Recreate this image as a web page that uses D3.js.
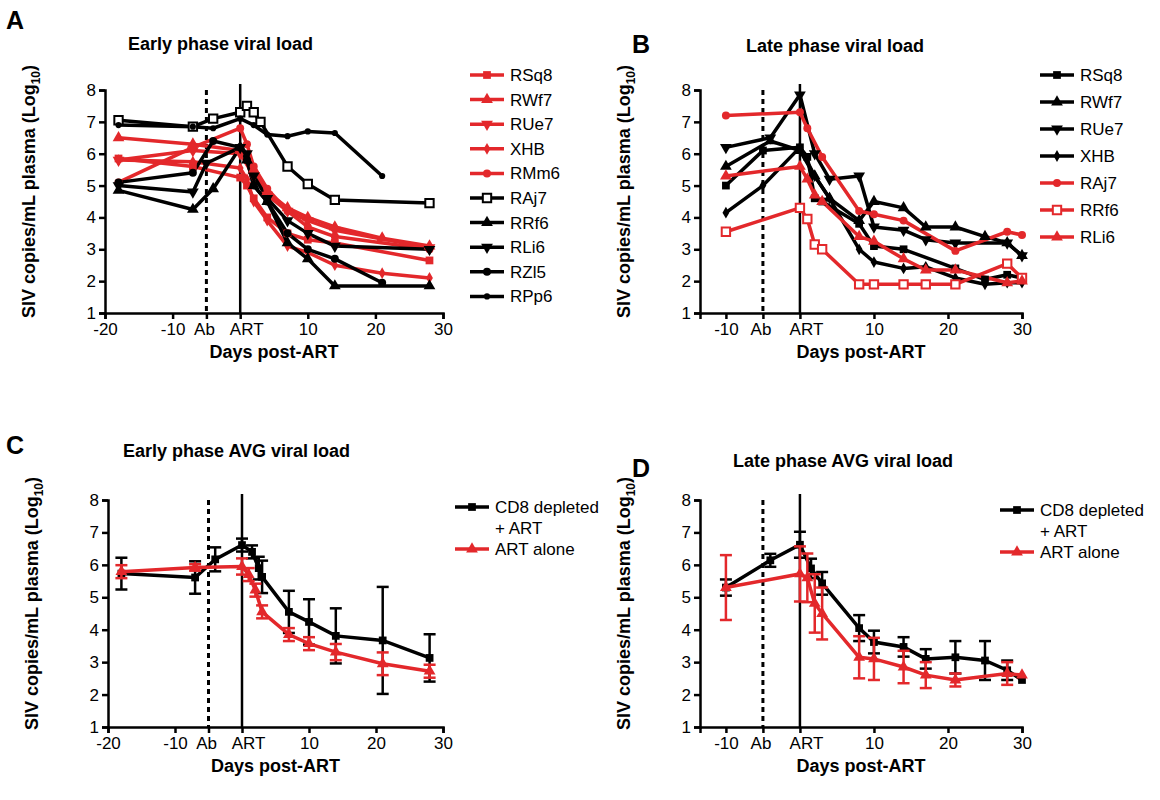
<!DOCTYPE html>
<html><head><meta charset="utf-8">
<script src="https://cdn.jsdelivr.net/npm/d3@7"></script>
<style>body{margin:0;background:#fff}text{font-family:Arial,"Liberation Sans",sans-serif}</style>
</head><body>
<svg id="c" width="1160" height="800"></svg>
<script>
const RED="#e3282b", BLK="#000";
const earlyNames=["RSq8","RWf7","RUe7","XHB","RMm6","RAj7","RRf6","RLi6","RZl5","RPp6"];
const earlyColors=[RED,RED,RED,RED,RED,BLK,BLK,BLK,BLK,BLK];
const earlySymbols=["square","triangle","down","diamond","circle","opensquare","triangle","down","circle","smallcircle"];
const earlyData=[
 [[-18,5.85],[-7,5.6],[0,5.25],[1,5.0],[2,4.6],[4,4.0],[7,3.5],[10,3.3],[14,3.2],[28,2.65]],
 [[-18,6.5],[-7,6.3],[0,6.1],[2,5.5],[4,4.8],[7,4.3],[10,4.0],[14,3.7],[21,3.35],[28,3.1]],
 [[-18,5.8],[-7,6.1],[0,6.0],[2,5.3],[4,4.7],[7,4.2],[10,3.9],[14,3.6],[28,3.05]],
 [[-18,5.8],[-7,5.75],[0,5.55],[1,5.2],[2,4.5],[4,3.9],[7,3.1],[10,2.9],[14,2.5],[21,2.25],[28,2.1]],
 [[-18,5.1],[-7,6.2],[0,6.8],[1,6.3],[2,5.6],[4,4.9],[7,4.2],[10,3.7],[14,3.4],[28,3.0]],
 [[-18,7.05],[-7,6.85],[-4,7.1],[0,7.3],[1,7.5],[2,7.3],[3,7.0],[7,5.6],[10,5.05],[14,4.55],[28,4.45]],
 [[-18,4.85],[-7,4.25],[-4,4.9],[0,6.2],[1,5.8],[2,5.0],[4,4.5],[7,3.2],[10,2.7],[14,1.85],[28,1.85]],
 [[-18,5.0],[-7,4.8],[-5,5.7],[0,6.2],[1,6.0],[2,5.3],[4,4.6],[7,3.9],[10,3.5],[14,3.1],[28,3.0]],
 [[-18,5.1],[-7,5.4],[-4,6.4],[0,6.2],[1,5.8],[2,5.0],[4,4.5],[7,3.5],[10,3.0],[14,2.7],[21,1.95]],
 [[-18,6.9],[-7,6.85],[-4,6.8],[0,7.1],[2,6.9],[4,6.6],[7,6.55],[10,6.7],[14,6.65],[21,5.3]]
];
const lateNames=["RSq8","RWf7","RUe7","XHB","RAj7","RRf6","RLi6"];
const lateColors=[BLK,BLK,BLK,BLK,RED,RED,RED];
const lateSymbols=["square","triangle","down","diamond","circle","opensquare","triangle"];
const lateData=[
 [[-10,5.0],[-5,6.1],[0,6.2],[1,5.9],[2,4.6],[3,4.5],[8,3.8],[10,3.1],[14,3.0],[21,2.4],[25,2.05],[28,2.2],[30,2.1]],
 [[-10,5.6],[-4,6.4],[0,6.1],[2,5.3],[4,4.6],[8,3.9],[10,4.5],[14,4.3],[17,3.7],[21,3.7],[25,3.4],[28,3.2],[30,2.8]],
 [[-10,6.2],[-4,6.5],[0,7.85],[2,6.0],[4,5.2],[8,5.3],[10,3.7],[14,3.6],[17,3.3],[21,3.2],[28,3.2],[30,2.8]],
 [[-10,4.15],[-5,5.0],[0,6.2],[2,5.3],[4,4.6],[8,3.0],[10,2.6],[14,2.4],[17,2.45],[21,2.1],[25,1.9],[28,1.95],[30,1.95]],
 [[-10,7.2],[0,7.3],[1,6.8],[3,5.9],[8,4.2],[10,4.1],[14,3.9],[21,2.95],[28,3.55],[30,3.45]],
 [[-10,3.55],[0,4.3],[1,3.95],[2,3.15],[3,3.0],[8,1.9],[10,1.9],[14,1.9],[17,1.9],[21,1.9],[28,2.55],[30,2.1]],
 [[-10,5.3],[0,5.6],[1,5.2],[2,4.7],[3,4.5],[8,3.4],[10,3.25],[14,2.7],[17,2.35],[21,2.35],[28,1.95],[30,2.0]]
];
const earlyAvgCD8=[[-18,5.73,0.49],[-7,5.61,0.5],[-4,6.17,0.37],[0,6.61,0.2],[1.5,6.4,0.2],[2.5,5.9,0.35],[3,5.63,0.5],[7,4.55,0.65],[10,4.24,0.7],[14,3.81,0.85],[21,3.67,1.65],[28,3.13,0.73]];
const earlyAvgART=[[-18,5.79,0.2],[-7,5.92,0.1],[0,5.95,0.25],[1,5.7,0.2],[2,5.22,0.2],[3,4.55,0.2],[7,3.85,0.2],[10,3.57,0.2],[14,3.31,0.25],[21,2.95,0.35],[28,2.72,0.2]];
const lateAvgCD8=[[-10,5.3,0.25],[-4,6.14,0.2],[0,6.62,0.4],[1.5,5.89,0.3],[3,5.43,0.35],[8,4.05,0.4],[10,3.62,0.35],[14,3.47,0.3],[17,3.1,0.3],[21,3.15,0.5],[25,3.05,0.6],[28,2.75,0.3],[30,2.45,0]];
const lateAvgART=[[-10,5.3,1.0],[0,5.72,0.85],[1,5.6,0.75],[2,4.81,0.9],[3,4.5,0.8],[8,3.15,0.65],[10,3.1,0.65],[14,2.85,0.5],[17,2.6,0.4],[21,2.45,0.2],[28,2.65,0.35],[30,2.6,0]];
const yTicks=[1,2,3,4,5,6,7,8];
const xTicksEarly=[-20,-10,0,10,20,30], xTicksLate=[-10,0,10,20,30];

const svg=d3.select("#c");
function sym(g,type,x,y,color){
  const s={square:d3.symbolSquare,opensquare:d3.symbolSquare,triangle:d3.symbolTriangle,down:d3.symbolTriangle,diamond:d3.symbolDiamond,circle:d3.symbolCircle,smallcircle:d3.symbolCircle}[type];
  const size={square:60,opensquare:70,triangle:60,down:60,diamond:40,circle:50,smallcircle:30}[type];
  const p=g.append("path").attr("d",d3.symbol(s,size)()).attr("transform",`translate(${x},${y})${type==="down"?" rotate(180)":""}`);
  if(type==="opensquare") p.attr("fill","#fff").attr("stroke",color).attr("stroke-width",2);
  else p.attr("fill",color);
}
function panel(o){
  const x=d3.scaleLinear().domain(o.xd).range(o.xr);
  const y=d3.scaleLinear().domain([1,8]).range(o.yr);
  const g=svg.append("g");
  const ya=g.append("g").attr("transform",`translate(${o.xr[0]},0)`).call(d3.axisLeft(y).tickValues(yTicks).tickFormat(d3.format("d")).tickSize(6));
  const xa=g.append("g").attr("transform",`translate(0,${o.yr[0]})`).call(d3.axisBottom(x).tickValues(o.xt.concat([-5])).tickSize(6).tickFormat(d=>d===0?"ART":d===-5?"Ab":d));
  [ya,xa].forEach(a=>{a.selectAll("path,line").attr("stroke","#000").attr("stroke-width",2.5);a.selectAll("text").attr("font-size",17).attr("fill","#000");});
  ya.selectAll("text").attr("x",-9);
  xa.selectAll("text").attr("y",10);
  xa.selectAll(".tick").filter(d=>d===-5).select("text").attr("text-anchor","end").attr("dx",8);
  xa.selectAll(".tick").filter(d=>d===0).select("text").attr("text-anchor","middle").attr("dx",6);
  g.append("line").attr("x1",x(-5)).attr("x2",x(-5)).attr("y1",y(8)).attr("y2",y(1)).attr("stroke","#000").attr("stroke-width",3).attr("stroke-dasharray","5,4");
  g.append("line").attr("x1",x(0)).attr("x2",x(0)).attr("y1",y(8)-6).attr("y2",y(1)).attr("stroke","#000").attr("stroke-width",2.5);
  svg.append("text").attr("x",o.lx).attr("y",o.ly).text(o.letter).attr("font-size",25).attr("font-weight","bold");
  svg.append("text").attr("x",o.tx).attr("y",o.ty).text(o.title).attr("font-size",18).attr("font-weight","bold");
  svg.append("text").attr("x",(o.xr[0]+o.xr[1])/2).attr("y",o.yr[0]+45).attr("text-anchor","middle").attr("font-size",18).attr("font-weight","bold").text("Days post-ART");
  const yt=svg.append("text").attr("transform",`translate(${o.xr[0]-70},${(o.yr[0]+o.yr[1])/2-10}) rotate(-90)`).attr("text-anchor","middle").attr("font-size",18).attr("font-weight","bold");
  yt.append("tspan").text("SIV copies/mL plasma (Log");
  yt.append("tspan").text("10").attr("font-size",12).attr("dy",5);
  yt.append("tspan").text(")").attr("dy",-5);
  const line=d3.line().x(d=>x(d[0])).y(d=>y(d[1]));
  if(o.series){
    o.series.forEach((s,i)=>{
      g.append("path").datum(s).attr("d",line).attr("fill","none").attr("stroke",o.colors[i]).attr("stroke-width",3.5).attr("stroke-linejoin","round");
    });
    o.series.forEach((s,i)=>s.forEach(d=>sym(g,o.symbols[i],x(d[0]),y(d[1]),o.colors[i])));
    o.names.forEach((n,i)=>{
      const yy=o.legY+i*o.legDy;
      g.append("line").attr("x1",o.legX).attr("x2",o.legX+34).attr("y1",yy).attr("y2",yy).attr("stroke",o.colors[i]).attr("stroke-width",3.5);
      sym(g,o.symbols[i],o.legX+17,yy,o.colors[i]);
      g.append("text").attr("x",o.legX+40).attr("y",yy+6).attr("font-size",17).text(n);
    });
  } else {
    [[o.cd8,BLK,"square"],[o.art,RED,"triangle"]].forEach(([s,c,t])=>{
      s.forEach(d=>{ if(d[2]>0){
        const xx=x(d[0]);
        g.append("line").attr("x1",xx).attr("x2",xx).attr("y1",y(d[1]-d[2])).attr("y2",y(d[1]+d[2])).attr("stroke",c).attr("stroke-width",2.5);
        [d[1]-d[2],d[1]+d[2]].forEach(v=>g.append("line").attr("x1",xx-6).attr("x2",xx+6).attr("y1",y(v)).attr("y2",y(v)).attr("stroke",c).attr("stroke-width",2.5));
      }});
      g.append("path").datum(s).attr("d",line).attr("fill","none").attr("stroke",c).attr("stroke-width",3.5);
      s.forEach(d=>sym(g,t,x(d[0]),y(d[1]),c));
    });
    const lx=o.legX, ly=o.legY;
    g.append("line").attr("x1",lx).attr("x2",lx+34).attr("y1",ly).attr("y2",ly).attr("stroke",BLK).attr("stroke-width",3.5);
    sym(g,"square",lx+17,ly,BLK);
    g.append("text").attr("x",lx+40).attr("y",ly+6).attr("font-size",17).text("CD8 depleted");
    g.append("text").attr("x",lx+40).attr("y",ly+27).attr("font-size",17).text("+ ART");
    g.append("line").attr("x1",lx).attr("x2",lx+34).attr("y1",ly+42).attr("y2",ly+42).attr("stroke",RED).attr("stroke-width",3.5);
    sym(g,"triangle",lx+17,ly+42,RED);
    g.append("text").attr("x",lx+40).attr("y",ly+48).attr("font-size",17).text("ART alone");
  }
}
panel({xd:[-20,30],xr:[105,443],yr:[313,90],xt:xTicksEarly,letter:"A",lx:6,ly:29,title:"Early phase viral load",tx:128,ty:50,
  series:earlyData,names:earlyNames,colors:earlyColors,symbols:earlySymbols,legX:470,legY:75,legDy:24.6});
panel({xd:[-13.5,30],xr:[700,1022],yr:[313,90],xt:xTicksLate,letter:"B",lx:632,ly:53,title:"Late phase viral load",tx:746,ty:52,
  series:lateData,names:lateNames,colors:lateColors,symbols:lateSymbols,legX:1040,legY:75,legDy:27});
panel({xd:[-20,30],xr:[108,443],yr:[727,500],xt:xTicksEarly,letter:"C",lx:6,ly:454,title:"Early phase AVG viral load",tx:123,ty:457,
  cd8:earlyAvgCD8,art:earlyAvgART,legX:455,legY:507});
panel({xd:[-13.5,30],xr:[700,1022],yr:[727,500],xt:xTicksLate,letter:"D",lx:632,ly:477,title:"Late phase AVG viral load",tx:733,ty:467,
  cd8:lateAvgCD8,art:lateAvgART,legX:1000,legY:510});
</script></body></html>
